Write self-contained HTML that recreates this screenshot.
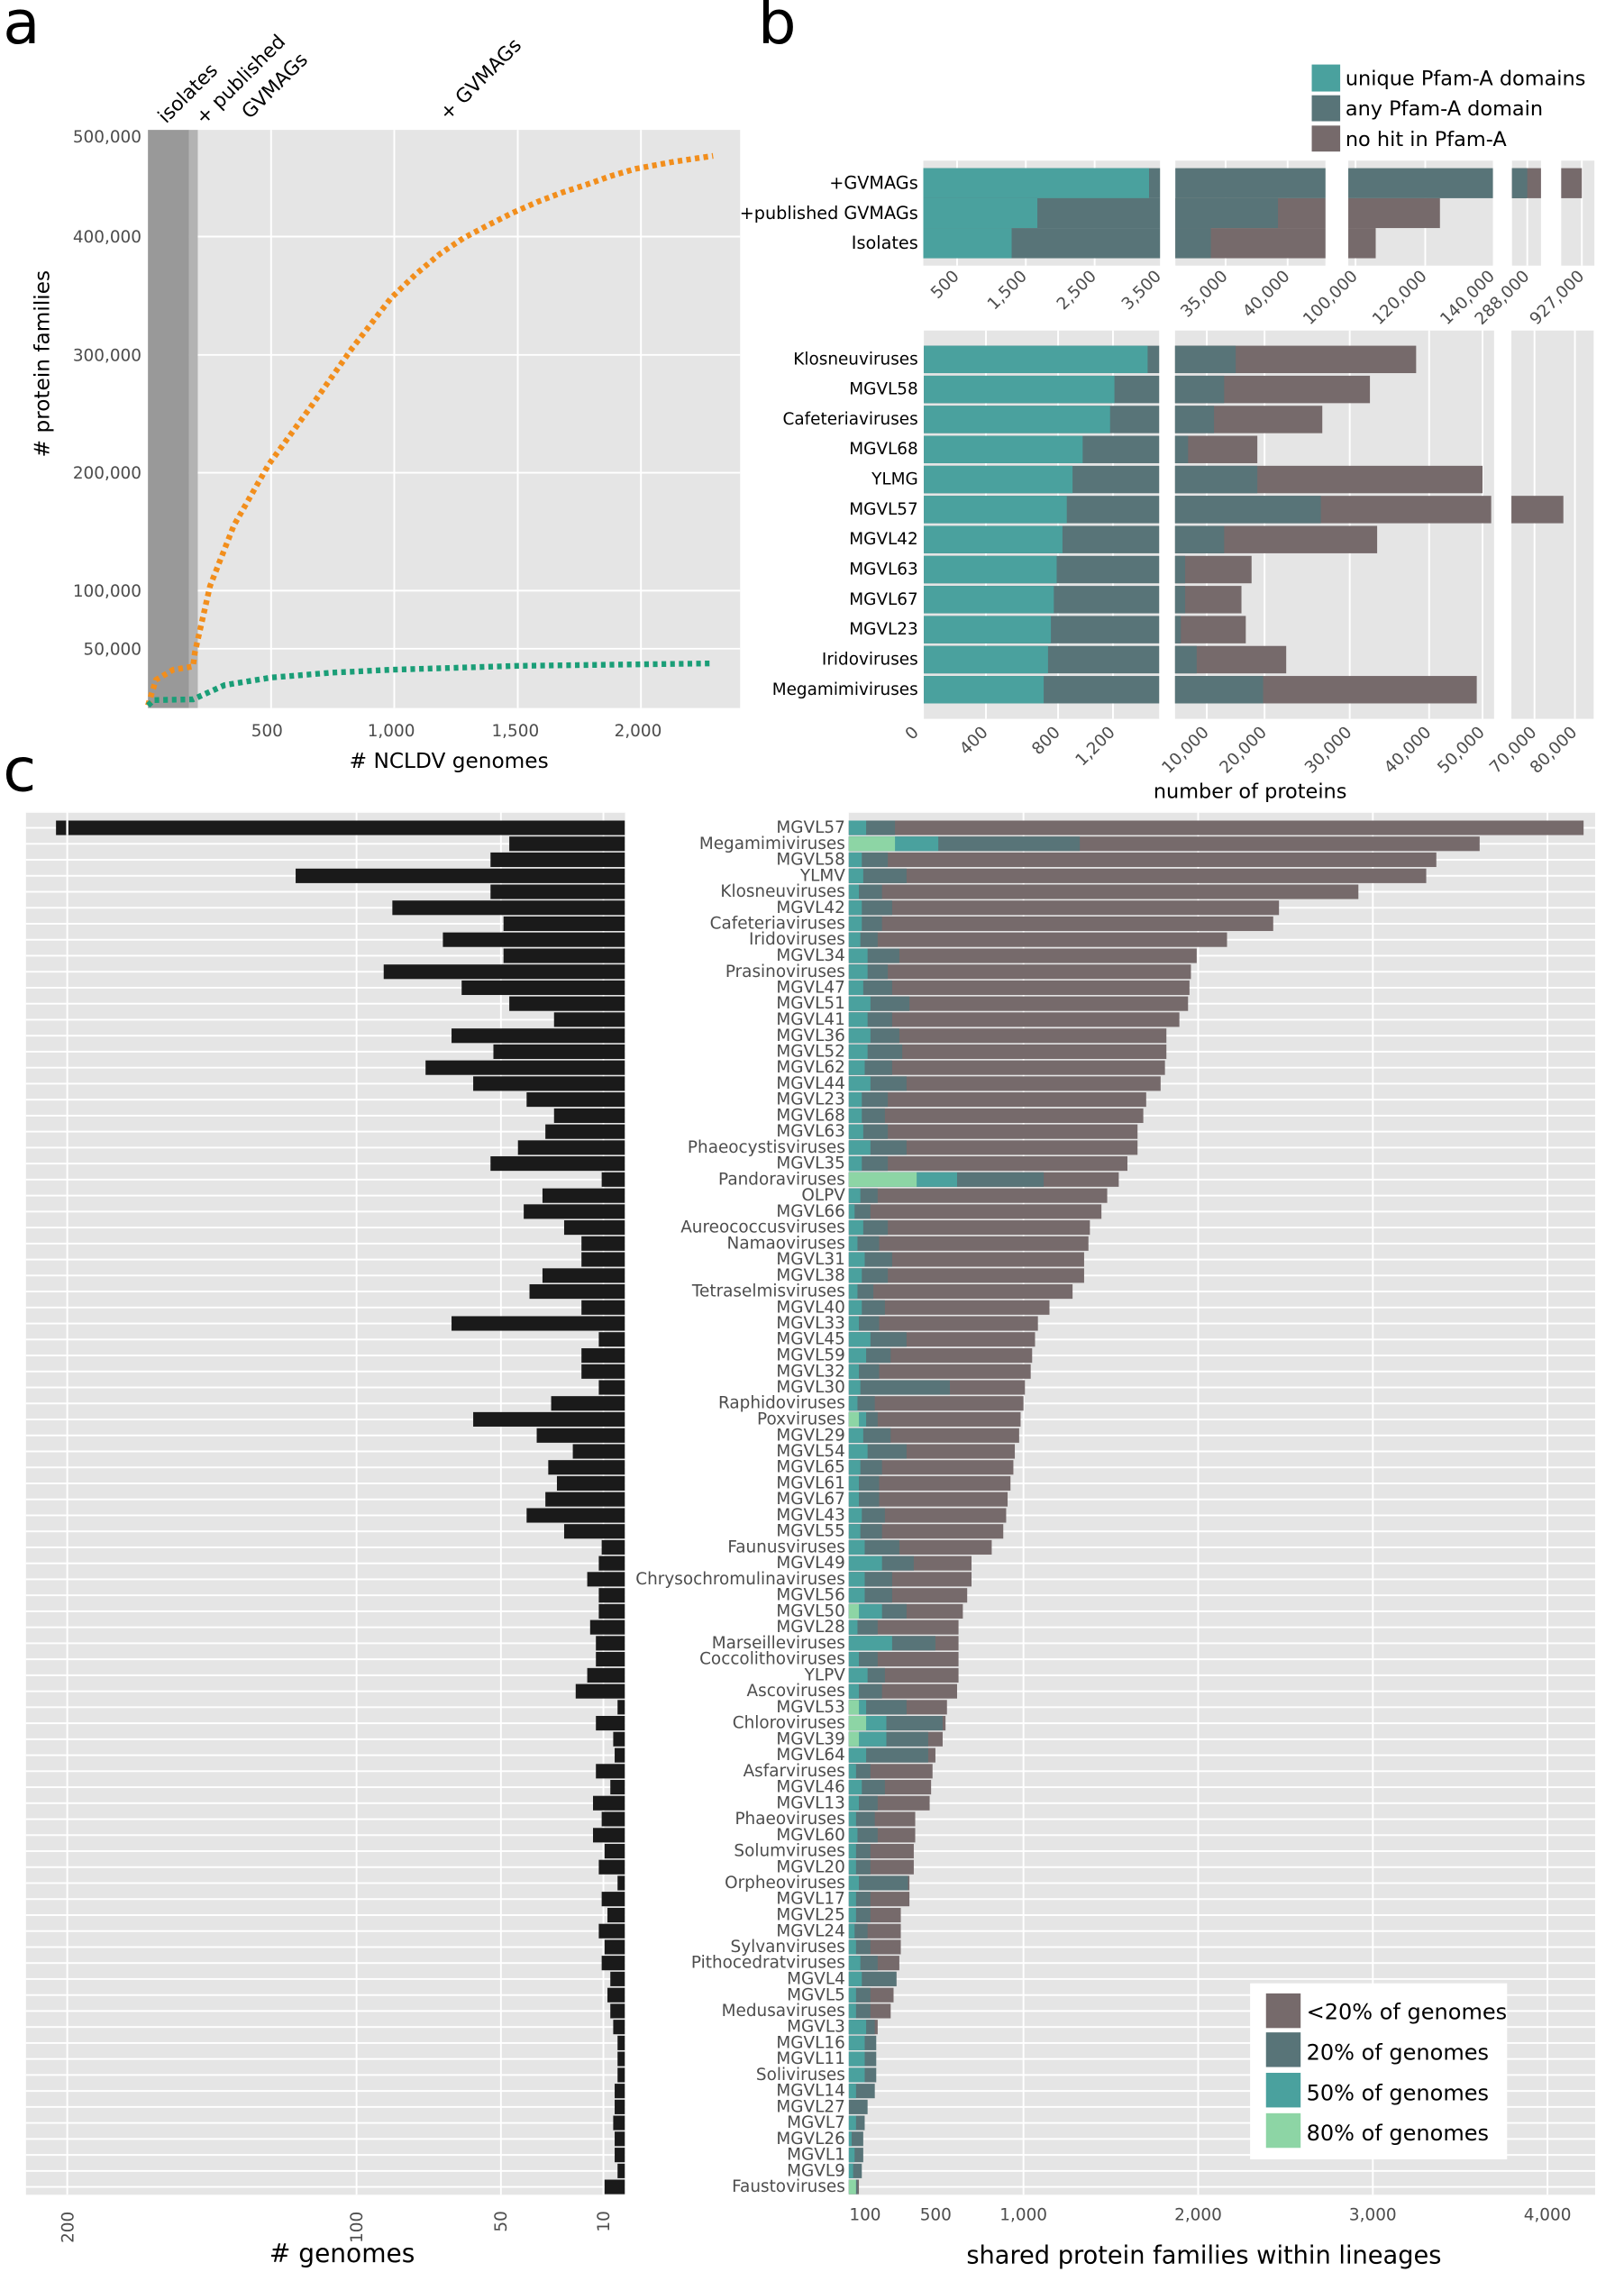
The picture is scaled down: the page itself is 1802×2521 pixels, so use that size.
<!DOCTYPE html>
<html><head><meta charset="utf-8"><style>
html,body{margin:0;padding:0;background:#fff}
svg{display:block}
text{font-family:"DejaVu Sans","Liberation Sans",sans-serif}
.tk{font-size:11.5px;fill:#4d4d4d}
.yl{font-size:11.5px;fill:#4d4d4d;text-anchor:end;dominant-baseline:central}
.k{fill:#1a1a1a}.b{fill:#766a6b}.s{fill:#587478}.t{fill:#4aa19e}.g{fill:#8dd5a5}
.gl{stroke:#fff;stroke-width:1.2}
.rows .b,.rows .s,.rows .t,.rows .g{transform:translate(3px,0)}
.rows text{transform:translate(2.5px,0)}
.rows .k{transform:translate(1.8px,0)}
</style></head><body>
<svg width="1802" height="2521" viewBox="0 0 1125 1574" preserveAspectRatio="none" xmlns="http://www.w3.org/2000/svg">
<defs>
<pattern id="hp" patternUnits="userSpaceOnUse" x="0" y="572.9" width="1200" height="11.077"><rect x="0" y="0" width="1200" height="1.2" fill="#fff"/></pattern>
</defs>
<!-- panel labels -->
<text x="2" y="30" font-size="42">a</text>
<text x="525" y="30" font-size="42">b</text>
<text x="2" y="548" font-size="42">c</text>

<!-- ============ PANEL A ============ -->
<rect x="102.5" y="90" width="410.2" height="400.5" fill="#e5e5e5"/>
<g class="gl">
<line x1="102.5" y1="163.9" x2="512.7" y2="163.9"/><line x1="102.5" y1="245.9" x2="512.7" y2="245.9"/>
<line x1="102.5" y1="327.5" x2="512.7" y2="327.5"/><line x1="102.5" y1="409.2" x2="512.7" y2="409.2"/>
<line x1="102.5" y1="449.4" x2="512.7" y2="449.4"/>
<line x1="187.8" y1="90" x2="187.8" y2="490.5"/><line x1="273.1" y1="90" x2="273.1" y2="490.5"/>
<line x1="358.7" y1="90" x2="358.7" y2="490.5"/><line x1="444" y1="90" x2="444" y2="490.5"/>
</g>
<rect x="102.5" y="90" width="28.5" height="400.5" fill="#999"/>
<rect x="131" y="90" width="6" height="400.5" fill="#b3b3b3"/>
<polyline fill="none" stroke="#f28e1c" stroke-width="4" stroke-linejoin="round" stroke-dasharray="3.2 2.8" points="102.5,488.7 108,471 120,464 133.7,461.7 135,452 145.5,406 162,364 186,322 216.6,280 243.6,241.7 270.7,206.7 288,190 304.6,176 321,165 338,156 355,147.5 372,140 389,133.5 406,128 423,122 440,117 467,112 494,108"/>
<polyline fill="none" stroke="#1a9e77" stroke-width="4" stroke-dasharray="3.2 2.8" points="102.5,488.7 106.6,485 133.7,484.5 155.7,474.6 187.8,469.4 230,466 270.7,464 358.7,461.3 494,459.6"/>
<g class="tk" text-anchor="end">
<text x="98" y="98.6">500,000</text><text x="98" y="168">400,000</text><text x="98" y="250">300,000</text>
<text x="98" y="331.6">200,000</text><text x="98" y="413.3">100,000</text><text x="98" y="453.5">50,000</text>
</g>
<g class="tk" text-anchor="middle">
<text x="185" y="510">500</text><text x="271" y="510">1,000</text><text x="357" y="510">1,500</text><text x="442" y="510">2,000</text>
</g>
<text x="311" y="532" font-size="14.5" text-anchor="middle">#  NCLDV genomes</text>
<text transform="translate(34,252) rotate(-90)" font-size="14.5" text-anchor="middle">#  protein families</text>
<g font-size="13.5">
<text transform="translate(115,86) rotate(-45)">isolates</text>
<text transform="translate(141,87) rotate(-45)">+ published</text>
<text transform="translate(173,83) rotate(-45)">GVMAGs</text>
<text transform="translate(310,84) rotate(-45)">+ GVMAGs</text>
</g>

<!-- ============ PANEL B ============ -->
<rect x="908.7" y="44.7" width="19.7" height="18.7" class="t"/>
<rect x="908.7" y="66" width="19.7" height="18" class="s"/>
<rect x="908.7" y="87" width="19.7" height="18" class="b"/>
<g font-size="14"><text x="932" y="59">unique Pfam-A domains</text><text x="932" y="80">any Pfam-A domain</text><text x="932" y="101">no hit in Pfam-A</text></g>

<!-- top facets -->
<rect x="639.6" y="111.3" width="164" height="72.7" fill="#e5e5e5"/>
<rect x="814.2" y="111.3" width="104" height="72.7" fill="#e5e5e5"/>
<rect x="934" y="111.3" width="100.2" height="72.7" fill="#e5e5e5"/>
<rect x="1047.4" y="111.3" width="20.1" height="72.7" fill="#e5e5e5"/>
<rect x="1081.5" y="111.3" width="23" height="72.7" fill="#e5e5e5"/>
<g class="gl">
<line x1="663" y1="111.3" x2="663" y2="184"/><line x1="710.6" y1="111.3" x2="710.6" y2="184"/><line x1="758.3" y1="111.3" x2="758.3" y2="184"/>
<line x1="849" y1="111.3" x2="849" y2="184"/><line x1="892" y1="111.3" x2="892" y2="184"/>
<line x1="939" y1="111.3" x2="939" y2="184"/><line x1="987.3" y1="111.3" x2="987.3" y2="184"/>
<line x1="1058" y1="111.3" x2="1058" y2="184"/><line x1="1095.8" y1="111.3" x2="1095.8" y2="184"/>
</g>
<rect x="639.6" y="116.5" width="164" height="20.8" class="s"/><rect x="639.6" y="116.5" width="156.4" height="20.8" class="t"/>
<rect x="639.6" y="137.3" width="164" height="20.7" class="s"/><rect x="639.6" y="137.3" width="79" height="20.7" class="t"/>
<rect x="639.6" y="158" width="164" height="20.9" class="s"/><rect x="639.6" y="158" width="61.2" height="20.9" class="t"/>
<rect x="814.2" y="116.5" width="104" height="20.8" class="s"/>
<rect x="814.2" y="137.3" width="104" height="20.7" class="b"/><rect x="814.2" y="137.3" width="71.1" height="20.7" class="s"/>
<rect x="814.2" y="158" width="104" height="20.9" class="b"/><rect x="814.2" y="158" width="24.6" height="20.9" class="s"/>
<rect x="934" y="116.5" width="100.2" height="20.8" class="s"/>
<rect x="934" y="137.3" width="63.5" height="20.7" class="b"/>
<rect x="934" y="158" width="19" height="20.9" class="b"/>
<rect x="1047.4" y="116.5" width="20.1" height="20.8" class="b"/><rect x="1047.4" y="116.5" width="10.6" height="20.8" class="s"/>
<rect x="1081.5" y="116.5" width="14.3" height="20.8" class="b"/>
<g font-size="12" text-anchor="end" dominant-baseline="central">
<text x="636" y="126.9">+GVMAGs</text><text x="636" y="147.6">+published GVMAGs</text><text x="636" y="168.4">Isolates</text>
</g>
<g class="tk" text-anchor="end" font-size="11">
<text transform="translate(665,192) rotate(-45)">500</text>
<text transform="translate(712,192) rotate(-45)">1,500</text>
<text transform="translate(760,192) rotate(-45)">2,500</text>
<text transform="translate(805,192) rotate(-45)">3,500</text>
<text transform="translate(851,192) rotate(-45)">35,000</text>
<text transform="translate(894,192) rotate(-45)">40,000</text>
<text transform="translate(941,192) rotate(-45)">100,000</text>
<text transform="translate(989,192) rotate(-45)">120,000</text>
<text transform="translate(1036,192) rotate(-45)">140,000</text>
<text transform="translate(1060,192) rotate(-45)">288,000</text>
<text transform="translate(1098,192) rotate(-45)">927,000</text>
</g>

<!-- bottom facets -->
<rect x="640" y="229" width="163" height="269" fill="#e5e5e5"/>
<rect x="814" y="229" width="221" height="269" fill="#e5e5e5"/>
<rect x="1047" y="229" width="57" height="269" fill="#e5e5e5"/>
<g class="gl">
<line x1="683" y1="229" x2="683" y2="498"/><line x1="733" y1="229" x2="733" y2="498"/><line x1="771" y1="229" x2="771" y2="498"/>
<line x1="836" y1="229" x2="836" y2="498"/><line x1="876" y1="229" x2="876" y2="498"/><line x1="935" y1="229" x2="935" y2="498"/><line x1="990" y1="229" x2="990" y2="498"/><line x1="1027" y1="229" x2="1027" y2="498"/>
<line x1="1063" y1="229" x2="1063" y2="498"/><line x1="1091" y1="229" x2="1091" y2="498"/>
</g>
<g transform="translate(0,239.5)">
<rect x="640" y="0" width="163" height="19" class="s"/><rect x="640" y="0" width="155" height="19" class="t"/>
<rect x="814" y="0" width="167" height="19" class="b"/><rect x="814" y="0" width="42" height="19" class="s"/></g>
<g transform="translate(0,260.3)">
<rect x="640" y="0" width="163" height="19" class="s"/><rect x="640" y="0" width="132" height="19" class="t"/>
<rect x="814" y="0" width="135" height="19" class="b"/><rect x="814" y="0" width="34" height="19" class="s"/></g>
<g transform="translate(0,281.1)">
<rect x="640" y="0" width="163" height="19" class="s"/><rect x="640" y="0" width="129" height="19" class="t"/>
<rect x="814" y="0" width="102" height="19" class="b"/><rect x="814" y="0" width="27" height="19" class="s"/></g>
<g transform="translate(0,301.9)">
<rect x="640" y="0" width="163" height="19" class="s"/><rect x="640" y="0" width="110" height="19" class="t"/>
<rect x="814" y="0" width="57" height="19" class="b"/><rect x="814" y="0" width="9" height="19" class="s"/></g>
<g transform="translate(0,322.7)">
<rect x="640" y="0" width="163" height="19" class="s"/><rect x="640" y="0" width="103" height="19" class="t"/>
<rect x="814" y="0" width="213" height="19" class="b"/><rect x="814" y="0" width="57" height="19" class="s"/></g>
<g transform="translate(0,343.5)">
<rect x="640" y="0" width="163" height="19" class="s"/><rect x="640" y="0" width="99" height="19" class="t"/>
<rect x="814" y="0" width="219" height="19" class="b"/><rect x="814" y="0" width="101" height="19" class="s"/>
<rect x="1047" y="0" width="36" height="19" class="b"/></g>
<g transform="translate(0,364.3)">
<rect x="640" y="0" width="163" height="19" class="s"/><rect x="640" y="0" width="96" height="19" class="t"/>
<rect x="814" y="0" width="140" height="19" class="b"/><rect x="814" y="0" width="34" height="19" class="s"/></g>
<g transform="translate(0,385.1)">
<rect x="640" y="0" width="163" height="19" class="s"/><rect x="640" y="0" width="92" height="19" class="t"/>
<rect x="814" y="0" width="53" height="19" class="b"/><rect x="814" y="0" width="7" height="19" class="s"/></g>
<g transform="translate(0,405.9)">
<rect x="640" y="0" width="163" height="19" class="s"/><rect x="640" y="0" width="90" height="19" class="t"/>
<rect x="814" y="0" width="46" height="19" class="b"/><rect x="814" y="0" width="7" height="19" class="s"/></g>
<g transform="translate(0,426.7)">
<rect x="640" y="0" width="163" height="19" class="s"/><rect x="640" y="0" width="88" height="19" class="t"/>
<rect x="814" y="0" width="49" height="19" class="b"/><rect x="814" y="0" width="4" height="19" class="s"/></g>
<g transform="translate(0,447.5)">
<rect x="640" y="0" width="163" height="19" class="s"/><rect x="640" y="0" width="86" height="19" class="t"/>
<rect x="814" y="0" width="77" height="19" class="b"/><rect x="814" y="0" width="15" height="19" class="s"/></g>
<g transform="translate(0,468.3)">
<rect x="640" y="0" width="163" height="19" class="s"/><rect x="640" y="0" width="83" height="19" class="t"/>
<rect x="814" y="0" width="209" height="19" class="b"/><rect x="814" y="0" width="61" height="19" class="s"/></g>
<g font-size="11.5" text-anchor="end" dominant-baseline="central">
<text x="636" y="249">Klosneuviruses</text><text x="636" y="269.8">MGVL58</text><text x="636" y="290.6">Cafeteriaviruses</text>
<text x="636" y="311.4">MGVL68</text><text x="636" y="332.2">YLMG</text><text x="636" y="353">MGVL57</text>
<text x="636" y="373.8">MGVL42</text><text x="636" y="394.6">MGVL63</text><text x="636" y="415.4">MGVL67</text>
<text x="636" y="436.2">MGVL23</text><text x="636" y="457">Iridoviruses</text><text x="636" y="477.8">Megamimiviruses</text>
</g>
<g class="tk" text-anchor="end" font-size="11">
<text transform="translate(637,508) rotate(-45)">0</text>
<text transform="translate(685,508) rotate(-45)">400</text>
<text transform="translate(735,508) rotate(-45)">800</text>
<text transform="translate(773,508) rotate(-45)">1,200</text>
<text transform="translate(838,508) rotate(-45)">10,000</text>
<text transform="translate(878,508) rotate(-45)">20,000</text>
<text transform="translate(937,508) rotate(-45)">30,000</text>
<text transform="translate(992,508) rotate(-45)">40,000</text>
<text transform="translate(1029,508) rotate(-45)">50,000</text>
<text transform="translate(1065,508) rotate(-45)">70,000</text>
<text transform="translate(1093,508) rotate(-45)">80,000</text>
</g>
<text x="866" y="553" font-size="14" text-anchor="middle">number of proteins</text>

<!-- ============ PANEL C ============ -->
<rect x="18" y="562.5" width="415" height="958" fill="#e5e5e5"/>
<rect x="588" y="562.5" width="517" height="958" fill="#e5e5e5"/>
<rect x="18" y="562.5" width="415" height="958" fill="url(#hp)"/>
<rect x="588" y="562.5" width="517" height="958" fill="url(#hp)"/>
<g class="gl">
<line x1="46.6" y1="562.5" x2="46.6" y2="1520.5"/><line x1="247" y1="562.5" x2="247" y2="1520.5"/><line x1="347" y1="562.5" x2="347" y2="1520.5"/><line x1="418" y1="562.5" x2="418" y2="1520.5"/>
<line x1="709" y1="562.5" x2="709" y2="1520.5"/><line x1="830" y1="562.5" x2="830" y2="1520.5"/><line x1="951" y1="562.5" x2="951" y2="1520.5"/><line x1="1072" y1="562.5" x2="1072" y2="1520.5"/>
</g>
<g class="rows" transform="matrix(1,0,0,1.00517,0,-0.45)">
<g transform="translate(0,571)"><rect class="k" x="37" y="-5" width="394" height="10"/><rect class="b" x="585" y="-5" width="509" height="10"/><rect class="s" x="585" y="-5" width="32" height="10"/><rect class="t" x="585" y="-5" width="12" height="10"/><text class="yl" x="583">MGVL57</text></g>
<g transform="translate(0,582)"><rect class="k" x="351" y="-5" width="80" height="10"/><rect class="b" x="585" y="-5" width="437" height="10"/><rect class="s" x="585" y="-5" width="160" height="10"/><rect class="t" x="585" y="-5" width="62" height="10"/><rect class="g" x="585" y="-5" width="32" height="10"/><text class="yl" x="583">Megamimiviruses</text></g>
<g transform="translate(0,593)"><rect class="k" x="338" y="-5" width="93" height="10"/><rect class="b" x="585" y="-5" width="407" height="10"/><rect class="s" x="585" y="-5" width="27" height="10"/><rect class="t" x="585" y="-5" width="9" height="10"/><text class="yl" x="583">MGVL58</text></g>
<g transform="translate(0,604.1)"><rect class="k" x="203" y="-5" width="228" height="10"/><rect class="b" x="585" y="-5" width="400" height="10"/><rect class="s" x="585" y="-5" width="40" height="10"/><rect class="t" x="585" y="-5" width="10" height="10"/><text class="yl" x="583">YLMV</text></g>
<g transform="translate(0,615.1)"><rect class="k" x="338" y="-5" width="93" height="10"/><rect class="b" x="585" y="-5" width="353" height="10"/><rect class="s" x="585" y="-5" width="23" height="10"/><rect class="t" x="585" y="-5" width="7" height="10"/><text class="yl" x="583">Klosneuviruses</text></g>
<g transform="translate(0,626.1)"><rect class="k" x="270" y="-5" width="161" height="10"/><rect class="b" x="585" y="-5" width="298" height="10"/><rect class="s" x="585" y="-5" width="30" height="10"/><rect class="t" x="585" y="-5" width="9" height="10"/><text class="yl" x="583">MGVL42</text></g>
<g transform="translate(0,637.1)"><rect class="k" x="347" y="-5" width="84" height="10"/><rect class="b" x="585" y="-5" width="294" height="10"/><rect class="s" x="585" y="-5" width="23" height="10"/><rect class="t" x="585" y="-5" width="9" height="10"/><text class="yl" x="583">Cafeteriaviruses</text></g>
<g transform="translate(0,648.1)"><rect class="k" x="305" y="-5" width="126" height="10"/><rect class="b" x="585" y="-5" width="262" height="10"/><rect class="s" x="585" y="-5" width="20" height="10"/><rect class="t" x="585" y="-5" width="8" height="10"/><text class="yl" x="583">Iridoviruses</text></g>
<g transform="translate(0,659.2)"><rect class="k" x="347" y="-5" width="84" height="10"/><rect class="b" x="585" y="-5" width="241" height="10"/><rect class="s" x="585" y="-5" width="35" height="10"/><rect class="t" x="585" y="-5" width="13" height="10"/><text class="yl" x="583">MGVL34</text></g>
<g transform="translate(0,670.2)"><rect class="k" x="264" y="-5" width="167" height="10"/><rect class="b" x="585" y="-5" width="237" height="10"/><rect class="s" x="585" y="-5" width="27" height="10"/><rect class="t" x="585" y="-5" width="13" height="10"/><text class="yl" x="583">Prasinoviruses</text></g>
<g transform="translate(0,681.2)"><rect class="k" x="318" y="-5" width="113" height="10"/><rect class="b" x="585" y="-5" width="236" height="10"/><rect class="s" x="585" y="-5" width="30" height="10"/><rect class="t" x="585" y="-5" width="10" height="10"/><text class="yl" x="583">MGVL47</text></g>
<g transform="translate(0,692.2)"><rect class="k" x="351" y="-5" width="80" height="10"/><rect class="b" x="585" y="-5" width="235" height="10"/><rect class="s" x="585" y="-5" width="42" height="10"/><rect class="t" x="585" y="-5" width="15" height="10"/><text class="yl" x="583">MGVL51</text></g>
<g transform="translate(0,703.2)"><rect class="k" x="382" y="-5" width="49" height="10"/><rect class="b" x="585" y="-5" width="229" height="10"/><rect class="s" x="585" y="-5" width="30" height="10"/><rect class="t" x="585" y="-5" width="13" height="10"/><text class="yl" x="583">MGVL41</text></g>
<g transform="translate(0,714.3)"><rect class="k" x="311" y="-5" width="120" height="10"/><rect class="b" x="585" y="-5" width="220" height="10"/><rect class="s" x="585" y="-5" width="35" height="10"/><rect class="t" x="585" y="-5" width="15" height="10"/><text class="yl" x="583">MGVL36</text></g>
<g transform="translate(0,725.3)"><rect class="k" x="340" y="-5" width="91" height="10"/><rect class="b" x="585" y="-5" width="220" height="10"/><rect class="s" x="585" y="-5" width="37" height="10"/><rect class="t" x="585" y="-5" width="13" height="10"/><text class="yl" x="583">MGVL52</text></g>
<g transform="translate(0,736.3)"><rect class="k" x="293" y="-5" width="138" height="10"/><rect class="b" x="585" y="-5" width="219" height="10"/><rect class="s" x="585" y="-5" width="30" height="10"/><rect class="t" x="585" y="-5" width="11" height="10"/><text class="yl" x="583">MGVL62</text></g>
<g transform="translate(0,747.3)"><rect class="k" x="326" y="-5" width="105" height="10"/><rect class="b" x="585" y="-5" width="216" height="10"/><rect class="s" x="585" y="-5" width="40" height="10"/><rect class="t" x="585" y="-5" width="15" height="10"/><text class="yl" x="583">MGVL44</text></g>
<g transform="translate(0,758.3)"><rect class="k" x="363" y="-5" width="68" height="10"/><rect class="b" x="585" y="-5" width="206" height="10"/><rect class="s" x="585" y="-5" width="27" height="10"/><rect class="t" x="585" y="-5" width="9" height="10"/><text class="yl" x="583">MGVL23</text></g>
<g transform="translate(0,769.4)"><rect class="k" x="382" y="-5" width="49" height="10"/><rect class="b" x="585" y="-5" width="204" height="10"/><rect class="s" x="585" y="-5" width="25" height="10"/><rect class="t" x="585" y="-5" width="9" height="10"/><text class="yl" x="583">MGVL68</text></g>
<g transform="translate(0,780.4)"><rect class="k" x="376" y="-5" width="55" height="10"/><rect class="b" x="585" y="-5" width="200" height="10"/><rect class="s" x="585" y="-5" width="27" height="10"/><rect class="t" x="585" y="-5" width="10" height="10"/><text class="yl" x="583">MGVL63</text></g>
<g transform="translate(0,791.4)"><rect class="k" x="357" y="-5" width="74" height="10"/><rect class="b" x="585" y="-5" width="200" height="10"/><rect class="s" x="585" y="-5" width="40" height="10"/><rect class="t" x="585" y="-5" width="15" height="10"/><text class="yl" x="583">Phaeocystisviruses</text></g>
<g transform="translate(0,802.4)"><rect class="k" x="338" y="-5" width="93" height="10"/><rect class="b" x="585" y="-5" width="193" height="10"/><rect class="s" x="585" y="-5" width="27" height="10"/><rect class="t" x="585" y="-5" width="9" height="10"/><text class="yl" x="583">MGVL35</text></g>
<g transform="translate(0,813.4)"><rect class="k" x="415" y="-5" width="16" height="10"/><rect class="b" x="585" y="-5" width="187" height="10"/><rect class="s" x="585" y="-5" width="135" height="10"/><rect class="t" x="585" y="-5" width="75" height="10"/><rect class="g" x="585" y="-5" width="47" height="10"/><text class="yl" x="583">Pandoraviruses</text></g>
<g transform="translate(0,824.5)"><rect class="k" x="374" y="-5" width="57" height="10"/><rect class="b" x="585" y="-5" width="179" height="10"/><rect class="s" x="585" y="-5" width="20" height="10"/><rect class="t" x="585" y="-5" width="8" height="10"/><text class="yl" x="583">OLPV</text></g>
<g transform="translate(0,835.5)"><rect class="k" x="361" y="-5" width="70" height="10"/><rect class="b" x="585" y="-5" width="175" height="10"/><rect class="s" x="585" y="-5" width="15" height="10"/><rect class="t" x="585" y="-5" width="4" height="10"/><text class="yl" x="583">MGVL66</text></g>
<g transform="translate(0,846.5)"><rect class="k" x="389" y="-5" width="42" height="10"/><rect class="b" x="585" y="-5" width="167" height="10"/><rect class="s" x="585" y="-5" width="27" height="10"/><rect class="t" x="585" y="-5" width="10" height="10"/><text class="yl" x="583">Aureococcusviruses</text></g>
<g transform="translate(0,857.5)"><rect class="k" x="401" y="-5" width="30" height="10"/><rect class="b" x="585" y="-5" width="166" height="10"/><rect class="s" x="585" y="-5" width="21" height="10"/><rect class="t" x="585" y="-5" width="6" height="10"/><text class="yl" x="583">Namaoviruses</text></g>
<g transform="translate(0,868.5)"><rect class="k" x="401" y="-5" width="30" height="10"/><rect class="b" x="585" y="-5" width="163" height="10"/><rect class="s" x="585" y="-5" width="30" height="10"/><rect class="t" x="585" y="-5" width="11" height="10"/><text class="yl" x="583">MGVL31</text></g>
<g transform="translate(0,879.6)"><rect class="k" x="374" y="-5" width="57" height="10"/><rect class="b" x="585" y="-5" width="163" height="10"/><rect class="s" x="585" y="-5" width="27" height="10"/><rect class="t" x="585" y="-5" width="9" height="10"/><text class="yl" x="583">MGVL38</text></g>
<g transform="translate(0,890.6)"><rect class="k" x="365" y="-5" width="66" height="10"/><rect class="b" x="585" y="-5" width="155" height="10"/><rect class="s" x="585" y="-5" width="17" height="10"/><rect class="t" x="585" y="-5" width="6" height="10"/><text class="yl" x="583">Tetraselmisviruses</text></g>
<g transform="translate(0,901.6)"><rect class="k" x="401" y="-5" width="30" height="10"/><rect class="b" x="585" y="-5" width="139" height="10"/><rect class="s" x="585" y="-5" width="25" height="10"/><rect class="t" x="585" y="-5" width="9" height="10"/><text class="yl" x="583">MGVL40</text></g>
<g transform="translate(0,912.6)"><rect class="k" x="311" y="-5" width="120" height="10"/><rect class="b" x="585" y="-5" width="131" height="10"/><rect class="s" x="585" y="-5" width="21" height="10"/><rect class="t" x="585" y="-5" width="7" height="10"/><text class="yl" x="583">MGVL33</text></g>
<g transform="translate(0,923.6)"><rect class="k" x="413" y="-5" width="18" height="10"/><rect class="b" x="585" y="-5" width="129" height="10"/><rect class="s" x="585" y="-5" width="40" height="10"/><rect class="t" x="585" y="-5" width="15" height="10"/><text class="yl" x="583">MGVL45</text></g>
<g transform="translate(0,934.7)"><rect class="k" x="401" y="-5" width="30" height="10"/><rect class="b" x="585" y="-5" width="127" height="10"/><rect class="s" x="585" y="-5" width="29" height="10"/><rect class="t" x="585" y="-5" width="12" height="10"/><text class="yl" x="583">MGVL59</text></g>
<g transform="translate(0,945.7)"><rect class="k" x="401" y="-5" width="30" height="10"/><rect class="b" x="585" y="-5" width="126" height="10"/><rect class="s" x="585" y="-5" width="21" height="10"/><rect class="t" x="585" y="-5" width="7" height="10"/><text class="yl" x="583">MGVL32</text></g>
<g transform="translate(0,956.7)"><rect class="k" x="413" y="-5" width="18" height="10"/><rect class="b" x="585" y="-5" width="122" height="10"/><rect class="s" x="585" y="-5" width="70" height="10"/><rect class="t" x="585" y="-5" width="8" height="10"/><text class="yl" x="583">MGVL30</text></g>
<g transform="translate(0,967.7)"><rect class="k" x="380" y="-5" width="51" height="10"/><rect class="b" x="585" y="-5" width="121" height="10"/><rect class="s" x="585" y="-5" width="18" height="10"/><rect class="t" x="585" y="-5" width="6" height="10"/><text class="yl" x="583">Raphidoviruses</text></g>
<g transform="translate(0,978.7)"><rect class="k" x="326" y="-5" width="105" height="10"/><rect class="b" x="585" y="-5" width="119" height="10"/><rect class="s" x="585" y="-5" width="20" height="10"/><rect class="t" x="585" y="-5" width="12" height="10"/><rect class="g" x="585" y="-5" width="7" height="10"/><text class="yl" x="583">Poxviruses</text></g>
<g transform="translate(0,989.8)"><rect class="k" x="370" y="-5" width="61" height="10"/><rect class="b" x="585" y="-5" width="118" height="10"/><rect class="s" x="585" y="-5" width="29" height="10"/><rect class="t" x="585" y="-5" width="10" height="10"/><text class="yl" x="583">MGVL29</text></g>
<g transform="translate(0,1000.8)"><rect class="k" x="395" y="-5" width="36" height="10"/><rect class="b" x="585" y="-5" width="115" height="10"/><rect class="s" x="585" y="-5" width="40" height="10"/><rect class="t" x="585" y="-5" width="13" height="10"/><text class="yl" x="583">MGVL54</text></g>
<g transform="translate(0,1011.8)"><rect class="k" x="378" y="-5" width="53" height="10"/><rect class="b" x="585" y="-5" width="114" height="10"/><rect class="s" x="585" y="-5" width="23" height="10"/><rect class="t" x="585" y="-5" width="8" height="10"/><text class="yl" x="583">MGVL65</text></g>
<g transform="translate(0,1022.8)"><rect class="k" x="384" y="-5" width="47" height="10"/><rect class="b" x="585" y="-5" width="112" height="10"/><rect class="s" x="585" y="-5" width="21" height="10"/><rect class="t" x="585" y="-5" width="7" height="10"/><text class="yl" x="583">MGVL61</text></g>
<g transform="translate(0,1033.8)"><rect class="k" x="376" y="-5" width="55" height="10"/><rect class="b" x="585" y="-5" width="110" height="10"/><rect class="s" x="585" y="-5" width="21" height="10"/><rect class="t" x="585" y="-5" width="7" height="10"/><text class="yl" x="583">MGVL67</text></g>
<g transform="translate(0,1044.9)"><rect class="k" x="363" y="-5" width="68" height="10"/><rect class="b" x="585" y="-5" width="109" height="10"/><rect class="s" x="585" y="-5" width="25" height="10"/><rect class="t" x="585" y="-5" width="9" height="10"/><text class="yl" x="583">MGVL43</text></g>
<g transform="translate(0,1055.9)"><rect class="k" x="389" y="-5" width="42" height="10"/><rect class="b" x="585" y="-5" width="107" height="10"/><rect class="s" x="585" y="-5" width="23" height="10"/><rect class="t" x="585" y="-5" width="8" height="10"/><text class="yl" x="583">MGVL55</text></g>
<g transform="translate(0,1066.9)"><rect class="k" x="415" y="-5" width="16" height="10"/><rect class="b" x="585" y="-5" width="99" height="10"/><rect class="s" x="585" y="-5" width="35" height="10"/><rect class="t" x="585" y="-5" width="11" height="10"/><text class="yl" x="583">Faunusviruses</text></g>
<g transform="translate(0,1077.9)"><rect class="k" x="413" y="-5" width="18" height="10"/><rect class="b" x="585" y="-5" width="85" height="10"/><rect class="s" x="585" y="-5" width="45" height="10"/><rect class="t" x="585" y="-5" width="23" height="10"/><text class="yl" x="583">MGVL49</text></g>
<g transform="translate(0,1088.9)"><rect class="k" x="405" y="-5" width="26" height="10"/><rect class="b" x="585" y="-5" width="85" height="10"/><rect class="s" x="585" y="-5" width="30" height="10"/><rect class="t" x="585" y="-5" width="11" height="10"/><text class="yl" x="583">Chrysochromulinaviruses</text></g>
<g transform="translate(0,1100)"><rect class="k" x="413" y="-5" width="18" height="10"/><rect class="b" x="585" y="-5" width="82" height="10"/><rect class="s" x="585" y="-5" width="30" height="10"/><rect class="t" x="585" y="-5" width="11" height="10"/><text class="yl" x="583">MGVL56</text></g>
<g transform="translate(0,1111)"><rect class="k" x="413" y="-5" width="18" height="10"/><rect class="b" x="585" y="-5" width="79" height="10"/><rect class="s" x="585" y="-5" width="40" height="10"/><rect class="t" x="585" y="-5" width="23" height="10"/><rect class="g" x="585" y="-5" width="7" height="10"/><text class="yl" x="583">MGVL50</text></g>
<g transform="translate(0,1122)"><rect class="k" x="407" y="-5" width="24" height="10"/><rect class="b" x="585" y="-5" width="76" height="10"/><rect class="s" x="585" y="-5" width="20" height="10"/><rect class="t" x="585" y="-5" width="6" height="10"/><text class="yl" x="583">MGVL28</text></g>
<g transform="translate(0,1133)"><rect class="k" x="411" y="-5" width="20" height="10"/><rect class="b" x="585" y="-5" width="76" height="10"/><rect class="s" x="585" y="-5" width="60" height="10"/><rect class="t" x="585" y="-5" width="30" height="10"/><text class="yl" x="583">Marseilleviruses</text></g>
<g transform="translate(0,1144)"><rect class="k" x="411" y="-5" width="20" height="10"/><rect class="b" x="585" y="-5" width="76" height="10"/><rect class="s" x="585" y="-5" width="20" height="10"/><rect class="t" x="585" y="-5" width="7" height="10"/><text class="yl" x="583">Coccolithoviruses</text></g>
<g transform="translate(0,1155.1)"><rect class="k" x="405" y="-5" width="26" height="10"/><rect class="b" x="585" y="-5" width="76" height="10"/><rect class="s" x="585" y="-5" width="25" height="10"/><rect class="t" x="585" y="-5" width="13" height="10"/><text class="yl" x="583">YLPV</text></g>
<g transform="translate(0,1166.1)"><rect class="k" x="397" y="-5" width="34" height="10"/><rect class="b" x="585" y="-5" width="75" height="10"/><rect class="s" x="585" y="-5" width="23" height="10"/><rect class="t" x="585" y="-5" width="7" height="10"/><text class="yl" x="583">Ascoviruses</text></g>
<g transform="translate(0,1177.1)"><rect class="k" x="426" y="-5" width="5" height="10"/><rect class="b" x="585" y="-5" width="68" height="10"/><rect class="s" x="585" y="-5" width="40" height="10"/><rect class="t" x="585" y="-5" width="12" height="10"/><rect class="g" x="585" y="-5" width="7" height="10"/><text class="yl" x="583">MGVL53</text></g>
<g transform="translate(0,1188.1)"><rect class="k" x="411" y="-5" width="20" height="10"/><rect class="b" x="585" y="-5" width="67" height="10"/><rect class="s" x="585" y="-5" width="65" height="10"/><rect class="t" x="585" y="-5" width="26" height="10"/><rect class="g" x="585" y="-5" width="12" height="10"/><text class="yl" x="583">Chloroviruses</text></g>
<g transform="translate(0,1199.1)"><rect class="k" x="423" y="-5" width="8" height="10"/><rect class="b" x="585" y="-5" width="65" height="10"/><rect class="s" x="585" y="-5" width="55" height="10"/><rect class="t" x="585" y="-5" width="26" height="10"/><rect class="g" x="585" y="-5" width="7" height="10"/><text class="yl" x="583">MGVL39</text></g>
<g transform="translate(0,1210.2)"><rect class="k" x="424" y="-5" width="7" height="10"/><rect class="b" x="585" y="-5" width="60" height="10"/><rect class="s" x="585" y="-5" width="55" height="10"/><rect class="t" x="585" y="-5" width="12" height="10"/><text class="yl" x="583">MGVL64</text></g>
<g transform="translate(0,1221.2)"><rect class="k" x="411" y="-5" width="20" height="10"/><rect class="b" x="585" y="-5" width="58" height="10"/><rect class="s" x="585" y="-5" width="15" height="10"/><rect class="t" x="585" y="-5" width="5" height="10"/><text class="yl" x="583">Asfarviruses</text></g>
<g transform="translate(0,1232.2)"><rect class="k" x="421" y="-5" width="10" height="10"/><rect class="b" x="585" y="-5" width="57" height="10"/><rect class="s" x="585" y="-5" width="25" height="10"/><rect class="t" x="585" y="-5" width="9" height="10"/><text class="yl" x="583">MGVL46</text></g>
<g transform="translate(0,1243.2)"><rect class="k" x="409" y="-5" width="22" height="10"/><rect class="b" x="585" y="-5" width="56" height="10"/><rect class="s" x="585" y="-5" width="20" height="10"/><rect class="t" x="585" y="-5" width="7" height="10"/><text class="yl" x="583">MGVL13</text></g>
<g transform="translate(0,1254.2)"><rect class="k" x="415" y="-5" width="16" height="10"/><rect class="b" x="585" y="-5" width="46" height="10"/><rect class="s" x="585" y="-5" width="18" height="10"/><rect class="t" x="585" y="-5" width="5" height="10"/><text class="yl" x="583">Phaeoviruses</text></g>
<g transform="translate(0,1265.3)"><rect class="k" x="409" y="-5" width="22" height="10"/><rect class="b" x="585" y="-5" width="46" height="10"/><rect class="s" x="585" y="-5" width="20" height="10"/><rect class="t" x="585" y="-5" width="6" height="10"/><text class="yl" x="583">MGVL60</text></g>
<g transform="translate(0,1276.3)"><rect class="k" x="417" y="-5" width="14" height="10"/><rect class="b" x="585" y="-5" width="45" height="10"/><rect class="s" x="585" y="-5" width="15" height="10"/><rect class="t" x="585" y="-5" width="5" height="10"/><text class="yl" x="583">Solumviruses</text></g>
<g transform="translate(0,1287.3)"><rect class="k" x="413" y="-5" width="18" height="10"/><rect class="b" x="585" y="-5" width="45" height="10"/><rect class="s" x="585" y="-5" width="15" height="10"/><rect class="t" x="585" y="-5" width="5" height="10"/><text class="yl" x="583">MGVL20</text></g>
<g transform="translate(0,1298.3)"><rect class="k" x="426" y="-5" width="5" height="10"/><rect class="b" x="585" y="-5" width="42" height="10"/><rect class="s" x="585" y="-5" width="41" height="10"/><rect class="t" x="585" y="-5" width="7" height="10"/><text class="yl" x="583">Orpheoviruses</text></g>
<g transform="translate(0,1309.3)"><rect class="k" x="415" y="-5" width="16" height="10"/><rect class="b" x="585" y="-5" width="42" height="10"/><rect class="s" x="585" y="-5" width="15" height="10"/><rect class="t" x="585" y="-5" width="5" height="10"/><text class="yl" x="583">MGVL17</text></g>
<g transform="translate(0,1320.4)"><rect class="k" x="419" y="-5" width="12" height="10"/><rect class="b" x="585" y="-5" width="36" height="10"/><rect class="s" x="585" y="-5" width="15" height="10"/><rect class="t" x="585" y="-5" width="5" height="10"/><text class="yl" x="583">MGVL25</text></g>
<g transform="translate(0,1331.4)"><rect class="k" x="413" y="-5" width="18" height="10"/><rect class="b" x="585" y="-5" width="36" height="10"/><rect class="s" x="585" y="-5" width="13" height="10"/><rect class="t" x="585" y="-5" width="4" height="10"/><text class="yl" x="583">MGVL24</text></g>
<g transform="translate(0,1342.4)"><rect class="k" x="417" y="-5" width="14" height="10"/><rect class="b" x="585" y="-5" width="36" height="10"/><rect class="s" x="585" y="-5" width="15" height="10"/><rect class="t" x="585" y="-5" width="5" height="10"/><text class="yl" x="583">Sylvanviruses</text></g>
<g transform="translate(0,1353.4)"><rect class="k" x="415" y="-5" width="16" height="10"/><rect class="b" x="585" y="-5" width="35" height="10"/><rect class="s" x="585" y="-5" width="20" height="10"/><rect class="t" x="585" y="-5" width="8" height="10"/><text class="yl" x="583">Pithocedratviruses</text></g>
<g transform="translate(0,1364.4)"><rect class="k" x="421" y="-5" width="10" height="10"/><rect class="b" x="585" y="-5" width="33" height="10"/><rect class="s" x="585" y="-5" width="33" height="10"/><rect class="t" x="585" y="-5" width="9" height="10"/><text class="yl" x="583">MGVL4</text></g>
<g transform="translate(0,1375.5)"><rect class="k" x="419" y="-5" width="12" height="10"/><rect class="b" x="585" y="-5" width="31" height="10"/><rect class="s" x="585" y="-5" width="15" height="10"/><rect class="t" x="585" y="-5" width="5" height="10"/><text class="yl" x="583">MGVL5</text></g>
<g transform="translate(0,1386.5)"><rect class="k" x="421" y="-5" width="10" height="10"/><rect class="b" x="585" y="-5" width="29" height="10"/><rect class="s" x="585" y="-5" width="15" height="10"/><rect class="t" x="585" y="-5" width="5" height="10"/><text class="yl" x="583">Medusaviruses</text></g>
<g transform="translate(0,1397.5)"><rect class="k" x="423" y="-5" width="8" height="10"/><rect class="b" x="585" y="-5" width="20" height="10"/><rect class="s" x="585" y="-5" width="18" height="10"/><rect class="t" x="585" y="-5" width="12" height="10"/><text class="yl" x="583">MGVL3</text></g>
<g transform="translate(0,1408.5)"><rect class="k" x="426" y="-5" width="5" height="10"/><rect class="s" x="585" y="-5" width="19" height="10"/><rect class="t" x="585" y="-5" width="11" height="10"/><text class="yl" x="583">MGVL16</text></g>
<g transform="translate(0,1419.5)"><rect class="k" x="426" y="-5" width="5" height="10"/><rect class="s" x="585" y="-5" width="19" height="10"/><rect class="t" x="585" y="-5" width="11" height="10"/><text class="yl" x="583">MGVL11</text></g>
<g transform="translate(0,1430.6)"><rect class="k" x="426" y="-5" width="5" height="10"/><rect class="s" x="585" y="-5" width="19" height="10"/><rect class="t" x="585" y="-5" width="11" height="10"/><text class="yl" x="583">Soliviruses</text></g>
<g transform="translate(0,1441.6)"><rect class="k" x="424" y="-5" width="7" height="10"/><rect class="s" x="585" y="-5" width="18" height="10"/><rect class="t" x="585" y="-5" width="5" height="10"/><text class="yl" x="583">MGVL14</text></g>
<g transform="translate(0,1452.6)"><rect class="k" x="424" y="-5" width="7" height="10"/><rect class="s" x="585" y="-5" width="13" height="10"/><text class="yl" x="583">MGVL27</text></g>
<g transform="translate(0,1463.6)"><rect class="k" x="423" y="-5" width="8" height="10"/><rect class="s" x="585" y="-5" width="11" height="10"/><rect class="t" x="585" y="-5" width="5" height="10"/><text class="yl" x="583">MGVL7</text></g>
<g transform="translate(0,1474.6)"><rect class="k" x="424" y="-5" width="7" height="10"/><rect class="s" x="585" y="-5" width="10" height="10"/><rect class="t" x="585" y="-5" width="2" height="10"/><text class="yl" x="583">MGVL26</text></g>
<g transform="translate(0,1485.7)"><rect class="k" x="424" y="-5" width="7" height="10"/><rect class="s" x="585" y="-5" width="10" height="10"/><rect class="t" x="585" y="-5" width="4" height="10"/><text class="yl" x="583">MGVL1</text></g>
<g transform="translate(0,1496.7)"><rect class="k" x="426" y="-5" width="5" height="10"/><rect class="s" x="585" y="-5" width="9" height="10"/><rect class="t" x="585" y="-5" width="3" height="10"/><text class="yl" x="583">MGVL9</text></g>
<g transform="translate(0,1507.7)"><rect class="k" x="417" y="-5" width="14" height="10"/><rect class="b" x="585" y="-5" width="7" height="10"/><rect class="s" x="585" y="-5" width="6" height="10"/><rect class="g" x="585" y="-5" width="5" height="10"/><text class="yl" x="583">Faustoviruses</text></g>
</g>
<line x1="46.6" y1="568.5" x2="46.6" y2="578.5" stroke="#fff" stroke-width="1.5"/>
<!-- axes c -->
<g class="tk" text-anchor="middle" font-size="11">
<text transform="translate(51,1543) rotate(-90)">200</text>
<text transform="translate(251,1543) rotate(-90)">100</text>
<text transform="translate(351,1539) rotate(-90)">50</text>
<text transform="translate(422,1539) rotate(-90)">10</text>
</g>
<g class="tk" text-anchor="middle" font-size="11.5">
<text x="599.3" y="1538">100</text><text x="648.2" y="1538">500</text><text x="709" y="1538">1,000</text>
<text x="830" y="1538">2,000</text><text x="951" y="1538">3,000</text><text x="1072" y="1538">4,000</text>
</g>
<text x="237" y="1567" font-size="17.5" text-anchor="middle">#  genomes</text>
<text x="834" y="1568" font-size="17" text-anchor="middle">shared protein families within lineages</text>
<!-- legend c -->
<rect x="866" y="1374" width="178" height="122" fill="#fff"/>
<rect x="877" y="1381" width="24" height="24" class="b"/>
<rect x="877" y="1408" width="24" height="24" class="s"/>
<rect x="877" y="1436" width="24" height="24" class="t"/>
<rect x="877" y="1464" width="24" height="24" class="g"/>
<g font-size="15"><text x="905" y="1399">&lt;20% of genomes</text><text x="905" y="1427">20% of genomes</text><text x="905" y="1455">50% of genomes</text><text x="905" y="1483">80% of genomes</text></g>
</svg>
</body></html>
